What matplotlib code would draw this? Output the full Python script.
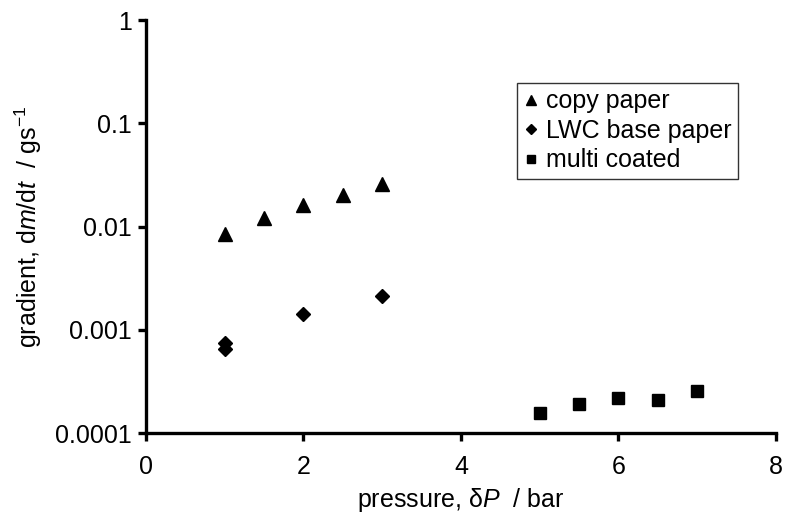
import matplotlib
matplotlib.use('Agg')
import matplotlib.pyplot as plt

plt.rcParams['font.family'] = ['Liberation Sans', 'DejaVu Sans']
plt.rcParams['mathtext.fontset'] = 'custom'
plt.rcParams['mathtext.rm'] = 'Liberation Sans'
plt.rcParams['mathtext.it'] = 'Liberation Sans:italic'

# copy paper
copy_p = [1, 1.5, 2, 2.5, 3]
copy_g = [0.0085, 0.0121, 0.0162, 0.0201, 0.0257]
# LWC base paper
lwc_p = [1, 1, 2, 3]
lwc_g = [0.00074, 0.00066, 0.00143, 0.00213]
# multi coated
multi_p = [5, 5.5, 6, 6.5, 7]
multi_g = [0.000156, 0.000192, 0.000217, 0.000210, 0.000255]

fs = 18

fig = plt.figure(figsize=(7.86, 5.27), dpi=100)
ax = fig.add_axes([0.1857, 0.178, 0.8015, 0.784])

ax.plot(copy_p, copy_g, '^', color='black', markersize=9.5, label='copy paper')
ax.plot(lwc_p, lwc_g, 'D', color='black', markersize=6.8, label='LWC base paper')
ax.plot(multi_p, multi_g, 's', color='black', markersize=9, label='multi coated')

ax.set_yscale('log')
ax.set_xlim(0, 8)
ax.set_ylim(0.0001, 1)
ax.set_xticks([0, 2, 4, 6, 8])
ax.set_yticks([0.0001, 0.001, 0.01, 0.1, 1])
ax.set_yticklabels(['0.0001', '0.001', '0.01', '0.1', '1'])
ax.yaxis.set_minor_locator(matplotlib.ticker.NullLocator())

for s in ['top', 'right']:
    ax.spines[s].set_visible(False)
for s in ['left', 'bottom']:
    ax.spines[s].set_linewidth(2.4)
ax.tick_params(axis='both', which='major', length=6, width=2.4, labelsize=fs, direction='out')
ax.tick_params(axis='x', pad=10)
ax.tick_params(axis='y', pad=4)

ax.set_xlabel(r'pressure, δ$\mathit{P}$  / bar', fontsize=fs, labelpad=5)
ax.set_ylabel(r'gradient, d$\mathit{m}$/d$\mathit{t}$  / gs$^{-1}$', fontsize=fs, labelpad=8)

leg = ax.legend(loc='upper left', bbox_to_anchor=(0.589, 0.847), fontsize=fs,
                markerscale=0.7, handlelength=0.6, handletextpad=0.3,
                borderpad=0.25, labelspacing=0.22, fancybox=False, framealpha=1,
                borderaxespad=0)
leg.get_frame().set_edgecolor('#333333')
leg.get_frame().set_linewidth(1.0)

fig.savefig('out.png', dpi=100)
